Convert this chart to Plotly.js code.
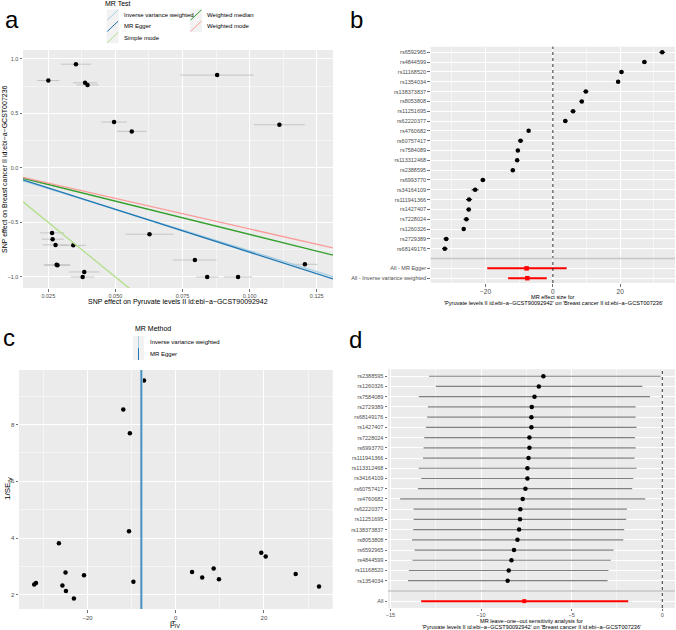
<!DOCTYPE html>
<html><head><meta charset="utf-8">
<script src="https://cdn.plot.ly/plotly-3.0.1.min.js"></script>
<style>html,body{margin:0;padding:0;background:#fff}#chart{width:676px;height:630px}</style>
</head><body><div id="chart"></div>
<script>
// ---------- Panel a: scatter of SNP effects ----------
const aSnpX = [0.0250,0.0353,0.0387,0.0396,0.0879,0.0495,0.0561,0.1111,0.0264,0.0266,0.0277,0.0343,0.0281,0.0284,0.0384,0.0378,0.0627,0.0796,0.0842,0.0957,0.1206];
const aSnpY = [0.80,0.95,0.78,0.76,0.85,0.42,0.334,0.395,-0.596,-0.654,-0.706,-0.71,-0.888,-0.893,-0.954,-1.0,-0.608,-0.844,-1.0,-1.0,-0.884];
const aSnpXErr = [0.0041,0.0056,0.0045,0.0042,0.0137,0.0048,0.0055,0.0095,0.0045,0.0041,0.0048,0.0047,0.0049,0.0049,0.0056,0.0044,0.0090,0.0081,0.0041,0.0052,0.0048];
const aSnpYErr = [0.012,0.012,0.012,0.012,0.014,0.012,0.012,0.020,0.012,0.012,0.012,0.012,0.012,0.012,0.012,0.012,0.012,0.014,0.012,0.012,0.014];
const mrMethods = ['Inverse variance weighted','MR Egger','Simple mode','Weighted median','Weighted mode'];
const mrSlopes = [-7.6,-7.85,-20.0,-6.1,-5.6];
const mrIntercepts = [0,0.012,0,0,0];
const aXRange = [0.01557,0.13107];
const aYRange = [-1.101,1.080];

// ---------- Panel b: forest plot ----------
const snpNames = ['rs6592965','rs4844599','rs11168520','rs1354034','rs138373837','rs8053808','rs11251695','rs62220377','rs4760682','rs60757417','rs7584089','rs113312468','rs2388595','rs6993770','rs34164109','rs111941366','rs1427407','rs7228024','rs1260326','rs2729389','rs68149176'];
const snpBeta = [32.5,27.2,20.4,19.4,9.8,8.6,6.0,3.7,-7.2,-9.6,-10.4,-10.6,-11.9,-20.8,-23.1,-24.9,-25.0,-25.7,-26.5,-31.7,-32.1];
const snpCIHalf = [0.86,0.72,0.59,0.56,0.77,0.67,0.75,0.70,0.21,0.80,0.25,0.46,0.23,0.73,1.03,0.92,0.70,0.84,0.51,0.81,0.83];
const sumNames = ['All - MR Egger','All - Inverse variance weighted'];
const sumBeta = [-7.8,-7.6];
const sumLo = [-19.5,-13.3];
const sumHi = [4.1,-1.8];

// ---------- Panel c: funnel plot ----------
const snpInvSE = [2.29,2.73,3.35,3.48,2.55,2.93,2.61,2.80,9.55,2.46,7.69,4.24,8.53,2.69,1.87,2.13,2.79,2.33,3.82,2.42,2.36];
const funnelMethods = ['Inverse variance weighted','MR Egger'];
const funnelBeta = [-7.6,-7.85];

// ---------- Panel d: leave-one-out ----------
const looNames = ['rs2388595','rs1260326','rs7584089','rs2729389','rs68149176','rs1427407','rs7228024','rs6993770','rs111941366','rs113312468','rs34164109','rs60757417','rs4760682','rs62220377','rs11251695','rs138373837','rs8053808','rs6592965','rs4844599','rs11168520','rs1354034'];
const looBeta = [-6.56,-6.81,-7.05,-7.20,-7.22,-7.22,-7.33,-7.33,-7.38,-7.44,-7.44,-7.55,-7.70,-7.83,-7.85,-7.90,-7.99,-8.18,-8.32,-8.47,-8.53];
const looLo = [-12.87,-12.50,-13.43,-12.93,-12.97,-13.04,-13.13,-13.17,-13.20,-13.44,-13.30,-13.48,-14.46,-13.72,-13.72,-13.74,-13.81,-13.66,-13.78,-13.98,-14.03];
const looHi = [-0.09,-1.10,-0.68,-1.47,-1.47,-1.42,-1.51,-1.47,-1.53,-1.42,-1.60,-1.66,-0.94,-1.95,-1.99,-2.10,-2.15,-2.69,-2.84,-2.97,-3.02];
const looAllName = 'All';
const looAllBeta = -7.61, looAllLo = -13.30, looAllHi = -1.88;

// ---------- styling ----------
const W = 676, H = 630;
const FONT = 'Liberation Sans, Arial, Helvetica, sans-serif';
const TICKC = '#4D4D4D';
const mrColors = ['#A6CEE3','#1F78B4','#B2DF8A','#33A02C','#FB9A99'];
const px = x => x / W, py = y => 1 - y / H;
const dom = (a,b) => [px(a), px(b)];
const domy = (t,b) => [py(b), py(t)];

function ax(extra){
  return Object.assign({showline:false, zeroline:false, ticks:'outside', ticklen:2.5, tickwidth:0.7,
    tickcolor:'#333333', showgrid:true, gridcolor:'#FFFFFF', gridwidth:1,
    tickfont:{family:FONT,size:5.5,color:TICKC}, fixedrange:true, automargin:false}, extra);
}
const idx = n => Array.from({length:n}, (_,i)=>i);

const traces = [];
traces.push({type:'scatter', mode:'markers', x:aSnpX, y:aSnpY, xaxis:'x', yaxis:'y',
  marker:{color:'#000', size:4.5},
  error_x:{type:'data', array:aSnpXErr, visible:true, color:'#BBBBBB', thickness:0.8, width:0},
  error_y:{type:'data', array:aSnpYErr, visible:true, color:'#BBBBBB', thickness:0.8, width:0},
  showlegend:false, hoverinfo:'skip'});
mrMethods.forEach((m,i)=>{
  traces.push({type:'scatter', mode:'lines', x:aXRange, y:aXRange.map(v=>mrIntercepts[i]+mrSlopes[i]*v),
    xaxis:'x', yaxis:'y', line:{color:mrColors[i], width:1.3}, name:m, showlegend:false, hoverinfo:'skip'});
});
traces.push({type:'scatter', mode:'markers', x:snpBeta, y:idx(snpNames.length), xaxis:'x2', yaxis:'y2',
  marker:{color:'#000', size:4.5},
  error_x:{type:'data', array:snpCIHalf, visible:true, color:'#000', thickness:1, width:0},
  showlegend:false, hoverinfo:'skip'});
traces.push({type:'scatter', mode:'markers', x:sumBeta, y:sumNames.map((_,i)=>snpNames.length+1+i), xaxis:'x2', yaxis:'y2',
  marker:{color:'#FF0000', size:4.5, symbol:'square'},
  error_x:{type:'data', array:sumHi.map((h,i)=>h-sumBeta[i]), arrayminus:sumLo.map((l,i)=>sumBeta[i]-l), visible:true, color:'#FF0000', thickness:2, width:0},
  showlegend:false, hoverinfo:'skip'});
traces.push({type:'scatter', mode:'markers', x:snpBeta, y:snpInvSE, xaxis:'x3', yaxis:'y3',
  marker:{color:'#000', size:4.5}, showlegend:false, hoverinfo:'skip'});
traces.push({type:'scatter', mode:'markers', x:looBeta, y:idx(looNames.length), xaxis:'x4', yaxis:'y4',
  marker:{color:'#000', size:4.5},
  error_x:{type:'data', array:looHi.map((h,i)=>h-looBeta[i]), arrayminus:looLo.map((l,i)=>looBeta[i]-l), visible:true, color:'#808080', thickness:1.2, width:0},
  showlegend:false, hoverinfo:'skip'});
traces.push({type:'scatter', mode:'markers', x:[looAllBeta], y:[looNames.length+1], xaxis:'x4', yaxis:'y4',
  marker:{color:'#FF0000', size:4, symbol:'square'},
  error_x:{type:'data', array:[looAllHi-looAllBeta], arrayminus:[looAllBeta-looAllLo], visible:true, color:'#FF0000', thickness:2, width:0},
  showlegend:false, hoverinfo:'skip'});

const shapes = [];
const annotations = [];
shapes.push({type:'line', xref:'x2', yref:'y2 domain', x0:0, x1:0, y0:0, y1:1, line:{color:'#000', width:0.8, dash:'dot'}});
shapes.push({type:'line', xref:'x4', yref:'y4 domain', x0:0, x1:0, y0:0, y1:1, line:{color:'#000', width:0.8, dash:'dot'}});
shapes.push({type:'line', xref:'x2 domain', yref:'y2', x0:0, x1:1, y0:snpNames.length, y1:snpNames.length, line:{color:'#C6C6C6', width:1.5}});
shapes.push({type:'line', xref:'x4 domain', yref:'y4', x0:0, x1:1, y0:looNames.length, y1:looNames.length, line:{color:'#C6C6C6', width:1.5}});
funnelMethods.forEach((m,i)=>{
  shapes.push({type:'line', xref:'x3', yref:'y3 domain', x0:funnelBeta[i], x1:funnelBeta[i], y0:0, y1:1, line:{color:mrColors[i], width:1.3}});
});

function txt(t,x,y,size,opts){
  annotations.push(Object.assign({text:t, x:px(x), y:py(y), xref:'paper', yref:'paper', showarrow:false,
    xanchor:'center', yanchor:'middle', font:{family:FONT, size:size, color:'#000'}}, opts||{}));
}
txt('MR Test', 103, 4, 7, {xanchor:'left'});
const legA = [[106.7,15],[106.7,26.3],[106.7,37.6],[190,15],[190,26.3]];
mrMethods.forEach((m,i)=>{
  const [x,y] = legA[i];
  shapes.push({type:'rect', xref:'paper', yref:'paper', x0:px(x), x1:px(x+12), y0:py(y+5.6), y1:py(y-5.6), fillcolor:'#F2F2F2', line:{width:0}});
  shapes.push({type:'line', xref:'paper', yref:'paper', x0:px(x+0.5), x1:px(x+11.5), y0:py(y+5.2), y1:py(y-5.2), line:{color:mrColors[i], width:1}});
  txt(m, x+15, y, 6, {xanchor:'left'});
});
txt('MR Method', 133, 328, 7, {xanchor:'left'});
const legC = [[133,342],[133,354]];
funnelMethods.forEach((m,i)=>{
  const [x,y] = legC[i];
  shapes.push({type:'rect', xref:'paper', yref:'paper', x0:px(x), x1:px(x+11), y0:py(y+6), y1:py(y-6), fillcolor:'#F2F2F2', line:{width:0}});
  shapes.push({type:'line', xref:'paper', yref:'paper', x0:px(x+5.5), x1:px(x+5.5), y0:py(y+6), y1:py(y-6), line:{color:mrColors[i], width:1}});
  txt(m, x+15, y, 6, {xanchor:'left'});
});
txt('a', 12, 19, 24);
txt('b', 356, 19, 24);
txt('c', 9, 337, 24);
txt('d', 355, 339, 24);
txt('SNP effect on Breast cancer II id:ebi−a−GCST007236', 5, 169, 7, {textangle:-90});
txt('SNP effect on Pyruvate levels II id:ebi−a−GCST90092942', 178, 302, 7);
txt('MR effect size for', 553, 297, 5.6);
txt("'Pyruvate levels II id:ebi−a−GCST90092942' on 'Breast cancer II id:ebi−a−GCST007236'", 553, 303, 5.6);
txt('1/SE<sub>IV</sub>', 8, 489, 8, {textangle:-90});
txt('β̂<sub>IV</sub>', 175, 624, 8);
txt('MR leave−one−out sensitivity analysis for', 531.5, 620.8, 5.6);
txt("'Pyruvate levels II id:ebi−a−GCST90092942' on 'Breast cancer II id:ebi−a−GCST007236'", 531.5, 626.5, 5.6);

const layout = {
  width:W, height:H, margin:{l:0,r:0,t:0,b:0}, paper_bgcolor:'#FFFFFF', plot_bgcolor:'#EBEBEB',
  showlegend:false, font:{family:FONT},
  xaxis: ax({domain:dom(23,333), anchor:'y', range:aXRange, tick0:0.025, dtick:0.025, tickformat:'.3f',
    minor:{dtick:0.0125, tick0:0.0125, showgrid:true, gridcolor:'#FFFFFF', gridwidth:0.5, ticks:''}}),
  yaxis: ax({domain:domy(50,288), anchor:'x', range:aYRange, tick0:0, dtick:0.5, tickformat:'.1f',
    minor:{dtick:0.25, tick0:0.25, showgrid:true, gridcolor:'#FFFFFF', gridwidth:0.5, ticks:''}}),
  xaxis2: ax({domain:dom(430.7,675), anchor:'y2', range:[-36.3,36.3], tick0:0, dtick:20,
    tickfont:{family:FONT,size:6.5,color:TICKC},
    minor:{dtick:10, tick0:0, showgrid:true, gridcolor:'#FFFFFF', gridwidth:0.5, ticks:''}}),
  yaxis2: ax({domain:domy(46.7,283), anchor:'x2', range:[23.49,-0.57],
    tickmode:'array', tickvals:idx(snpNames.length).concat(sumNames.map((_,i)=>snpNames.length+1+i)),
    ticktext:snpNames.concat(sumNames)}),
  xaxis3: ax({domain:dom(19,332.7), anchor:'y3', range:[-35.55,35.6], tick0:0, dtick:20,
    tickfont:{family:FONT,size:6,color:TICKC},
    minor:{dtick:10, tick0:0, showgrid:true, gridcolor:'#FFFFFF', gridwidth:0.5, ticks:''}}),
  yaxis3: ax({domain:domy(370,609), anchor:'x3', range:[1.50,9.92], tick0:0, dtick:2,
    tickfont:{family:FONT,size:6,color:TICKC},
    minor:{dtick:1, tick0:1, showgrid:true, gridcolor:'#FFFFFF', gridwidth:0.5, ticks:''}}),
  xaxis4: ax({domain:dom(388,675), anchor:'y4', range:[-15.13,0.70], tick0:0, dtick:5, ticklen:1.5,
    minor:{dtick:2.5, tick0:0, showgrid:true, gridcolor:'#FFFFFF', gridwidth:0.5, ticks:''}}),
  yaxis4: ax({domain:domy(369.3,608), anchor:'x4', range:[22.67,-0.68],
    tickmode:'array', tickvals:idx(looNames.length).concat([looNames.length+1]),
    ticktext:looNames.concat([looAllName])}),
  shapes:shapes, annotations:annotations
};
Plotly.newPlot('chart', traces, layout, {staticPlot:true, displayModeBar:false});
</script></body></html>
